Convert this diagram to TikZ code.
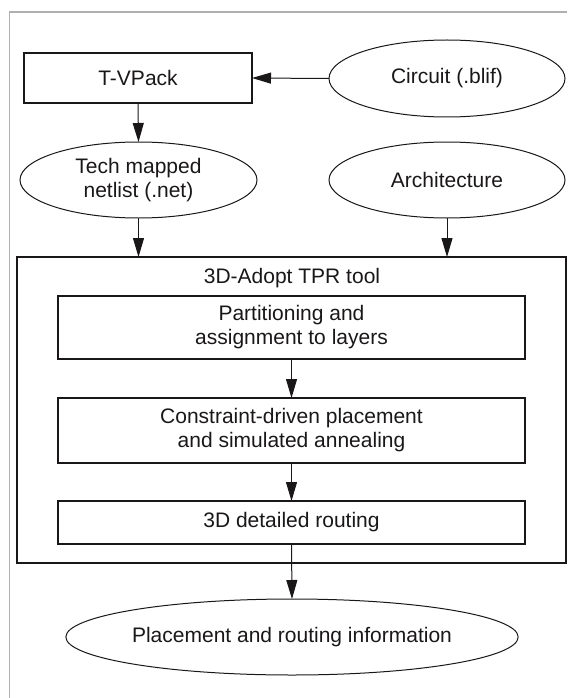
\documentclass[tikz,border=0pt]{standalone}
\usepackage{fontspec}
\setmainfont{Liberation Sans}
\usetikzlibrary{shapes.geometric,arrows.meta}
\definecolor{ink}{HTML}{1A1718}
\definecolor{frame}{HTML}{B0B0B0}
\begin{document}
\begin{tikzpicture}[x=1pt,y=-1pt,
  every node/.style={inner sep=0pt, outer sep=0pt, text=ink, font=\fontsize{21pt}{24pt}\selectfont, align=center},
  boxnode/.style={draw=ink, line width=1.1pt, rectangle},
  ellnode/.style={draw=ink, line width=1pt, ellipse},
  arr/.style={draw=ink, line width=1pt, -{Triangle[length=19pt,width=11pt]}}
]
\useasboundingbox (0,0) rectangle (567,698);
% outer light frame
\draw[frame, line width=1.6pt] (9.5,698) -- (9.5,12) -- (567,12);

\node[boxnode, minimum width=228pt, minimum height=50pt] (tvpack) at (138,78) {T-VPack};
\node[ellnode, minimum width=236pt, minimum height=77pt] (circuit) at (447,78.5) {Circuit (.blif)};
\node[ellnode, minimum width=237pt, minimum height=76pt] (tech) at (138.5,180) {Tech mapped\\netlist (.net)};
\node[ellnode, minimum width=236pt, minimum height=76pt] (arch) at (447,180) {Architecture};

\node[boxnode, minimum width=549pt, minimum height=306pt] (tool) at (291.5,410) {};
\node (toollabel) at (292,278) {3D-Adopt TPR tool};
\node[boxnode, minimum width=467pt, minimum height=63pt] (p1) at (291.5,327.5) {Partitioning and\\assignment to layers};
\node[boxnode, minimum width=467pt, minimum height=65pt] (p2) at (291.5,430.5) {Constraint-driven placement\\and simulated annealing};
\node[boxnode, minimum width=467pt, minimum height=43pt] (p3) at (291.5,522.5) {3D detailed routing};

\node[ellnode, minimum width=360pt, minimum height=76pt] (final) at (292,637) {Placement and routing information};

\coordinate (techin) at (tech.south |- tool.north);
\coordinate (archin) at (arch.south |- tool.north);

\draw[arr] (circuit.west) -- (tvpack.east);
\draw[arr] (tvpack.south) -- (tech.north);
\draw[arr] (tech.south) -- (techin);
\draw[arr] (arch.south) -- (archin);
\draw[arr] (p1.south) -- (p2.north);
\draw[arr] (p2.south) -- (p3.north);
\draw[arr] (p3.south) -- (final.north);
\end{tikzpicture}
\end{document}
